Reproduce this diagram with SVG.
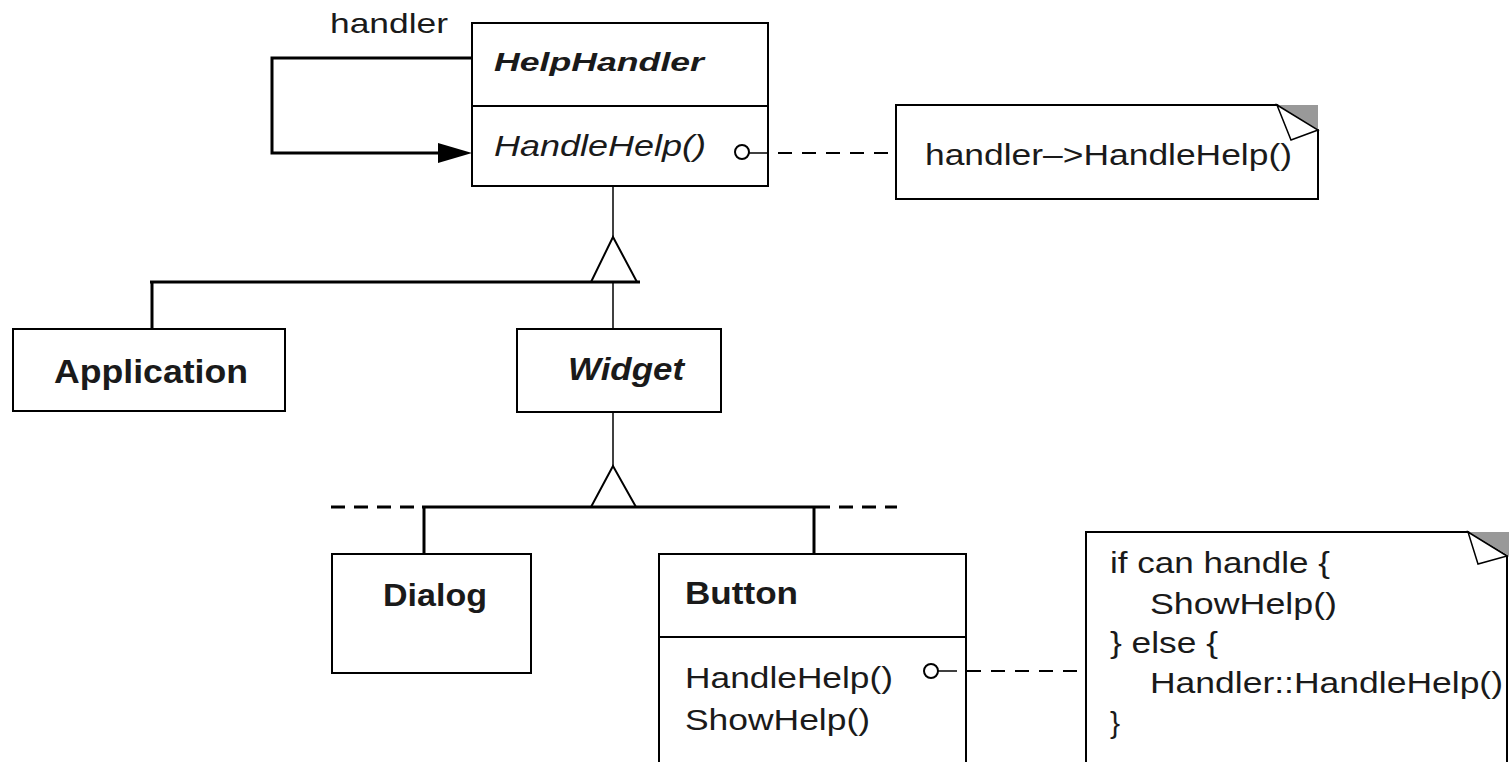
<svg xmlns="http://www.w3.org/2000/svg" width="1509" height="762" viewBox="0 0 1509 762">
<style>
  .box{fill:#fff;stroke:#000;stroke-width:2}
  .t{font-family:"Liberation Sans",Arial,sans-serif;fill:#1a1a1a}
  .b{font-weight:bold}
  .i{font-style:italic}
  .thick{stroke:#000;stroke-width:3;fill:none}
  .thin{stroke:#000;stroke-width:1.5;fill:none}
  .dash{stroke:#000;stroke-width:2;fill:none;stroke-dasharray:14 10}
  .dash3{stroke:#000;stroke-width:3;fill:none;stroke-dasharray:14 9}
  .tri{fill:#fff;stroke:#000;stroke-width:2}
  .fold{fill:#999}
  .flap{fill:#fff;stroke:#000;stroke-width:1.5}
  .dot{fill:#fff;stroke:#000;stroke-width:2}
</style>
<rect width="1509" height="762" fill="#fff"/>

<g id="handler-label">
  <text class="t" x="330" y="33" font-size="28" textLength="118" lengthAdjust="spacingAndGlyphs">handler</text>
</g>

<g id="HelpHandler">
  <rect class="box" x="472" y="23" width="296" height="163"/>
  <line x1="472" y1="106" x2="768" y2="106" stroke="#000" stroke-width="2"/>
  <text class="t b i" x="494" y="71" font-size="26" textLength="210" lengthAdjust="spacingAndGlyphs">HelpHandler</text>
  <text class="t i" x="494" y="156" font-size="29" textLength="212" lengthAdjust="spacingAndGlyphs">HandleHelp()</text>
</g>

<g id="note1">
  <path class="box" d="M896,105 H1277 L1318,130 V199 H896 Z"/>
  <polygon class="fold" points="1277,105 1318,105 1318,130"/>
  <polygon class="flap" points="1277,105 1318,130 1291,140"/>
  <text class="t" x="925" y="165" font-size="30" textLength="367" lengthAdjust="spacingAndGlyphs">handler–&gt;HandleHelp()</text>
</g>

<g id="Application">
  <rect class="box" x="13" y="329" width="272" height="82"/>
  <text class="t b" x="54" y="383" font-size="34" textLength="194" lengthAdjust="spacingAndGlyphs">Application</text>
</g>

<g id="Widget">
  <rect class="box" x="517" y="329" width="204" height="83"/>
  <text class="t b i" x="568" y="380" font-size="32" textLength="116" lengthAdjust="spacingAndGlyphs">Widget</text>
</g>

<g id="Dialog">
  <rect class="box" x="332" y="554" width="199" height="119"/>
  <text class="t b" x="383" y="606" font-size="32" textLength="104" lengthAdjust="spacingAndGlyphs">Dialog</text>
</g>

<g id="Button">
  <rect class="box" x="659" y="554" width="307" height="230"/>
  <line x1="659" y1="637" x2="966" y2="637" stroke="#000" stroke-width="2"/>
  <text class="t b" x="685" y="604" font-size="32" textLength="113" lengthAdjust="spacingAndGlyphs">Button</text>
  <text class="t" x="685" y="688" font-size="30" textLength="208" lengthAdjust="spacingAndGlyphs">HandleHelp()</text>
  <text class="t" x="685" y="730" font-size="30" textLength="185" lengthAdjust="spacingAndGlyphs">ShowHelp()</text>
</g>

<g id="note2">
  <path class="box" d="M1086,532 H1468 L1507,556 V790 H1086 Z"/>
  <polygon class="fold" points="1468,532 1509,532 1509,556"/>
  <polygon class="flap" points="1468,532 1507,556 1478,564"/>
  <text class="t" x="1110" y="573" font-size="30" textLength="220" lengthAdjust="spacingAndGlyphs">if can handle {</text>
  <text class="t" x="1150" y="614" font-size="30" textLength="187" lengthAdjust="spacingAndGlyphs">ShowHelp()</text>
  <text class="t" x="1110" y="653" font-size="30" textLength="108" lengthAdjust="spacingAndGlyphs">} else {</text>
  <text class="t" x="1150" y="693" font-size="30" textLength="353" lengthAdjust="spacingAndGlyphs">Handler::HandleHelp()</text>
  <text class="t" x="1110" y="733" font-size="30">}</text>
</g>

<g id="connectors">
  <!-- self association -->
  <path class="thick" d="M471,58 H272 V153 H440"/>
  <polygon points="438,143 472,153 438,163" fill="#000"/>
  <!-- note 1 link -->
  <circle class="dot" cx="742" cy="152" r="7"/>
  <line class="thin" x1="749" y1="153" x2="768" y2="153"/>
  <line class="dash" x1="778" y1="153" x2="896" y2="153"/>
  <!-- inheritance 1 -->
  <line class="thin" x1="613" y1="187" x2="613" y2="237"/>
  <polygon class="tri" points="613,237 591,282 637,282"/>
  <line class="thick" x1="150" y1="282" x2="640" y2="282"/>
  <line class="thick" x1="152" y1="282" x2="152" y2="328"/>
  <line class="thin" x1="613" y1="282" x2="613" y2="328"/>
  <!-- inheritance 2 -->
  <line class="thin" x1="613" y1="413" x2="613" y2="466"/>
  <polygon class="tri" points="613,466 591,507 636,507"/>
  <line class="thick" x1="422" y1="507" x2="816" y2="507"/>
  <line class="dash3" x1="331" y1="507" x2="422" y2="507"/>
  <line class="dash3" x1="816" y1="507" x2="897" y2="507"/>
  <line class="thick" x1="424" y1="507" x2="424" y2="553"/>
  <line class="thick" x1="814" y1="507" x2="814" y2="553"/>
  <!-- note 2 link -->
  <circle class="dot" cx="931" cy="671" r="7"/>
  <line class="thin" x1="938" y1="671" x2="957" y2="671"/>
  <line class="dash" x1="967" y1="671" x2="1086" y2="671"/>
</g>
</svg>
